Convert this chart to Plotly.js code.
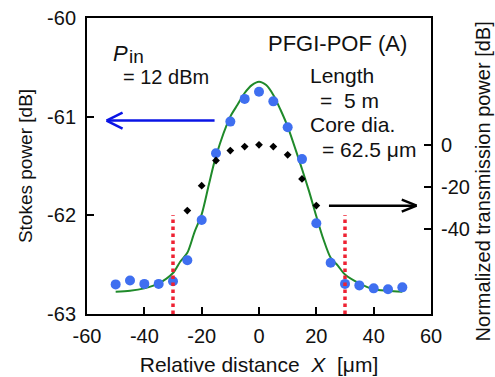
<!DOCTYPE html>
<html>
<head>
<meta charset="utf-8">
<script src="https://cdn.plot.ly/plotly-3.0.1.min.js"></script>
<style>html,body{margin:0;padding:0;background:#fff;}#chart{width:495px;height:377px;}</style>
</head>
<body>
<div id="chart"></div>
<script>
// Measured Stokes power (left axis, dB)
const positions = [-50,-45,-40,-35,-30,-25,-20,-15,-10,-5,0,5,10,15,20,25,30,35,40,45,50];
const stokesPower = [-62.70,-62.66,-62.695,-62.695,-62.668,-62.455,-62.047,-61.37,-61.05,-60.82,-60.747,-60.845,-61.107,-61.43,-62.08,-62.48,-62.695,-62.71,-62.74,-62.75,-62.73];

// Normalized transmission power (right axis, dB)
const transPositions = [-25,-20,-15,-10,-5,0,5,10,15,20];
const transPower = [-31.1,-19.3,-7.4,-2.7,-0.8,0,-0.8,-4.7,-16.1,-28.7];

// Fitted curve
const fitX = [-50,-45,-40,-35,-30,-27.5,-25,-22.5,-20,-17.5,-15,-10,-7.5,-5,-2.5,0,2.5,5,7.5,10,15,17.5,20,22.5,25,27.5,30,35,40,45,50];
const fitY = [-62.775,-62.765,-62.74,-62.69,-62.585,-62.47,-62.38,-62.17,-61.99,-61.69,-61.40,-61.00,-60.88,-60.76,-60.68,-60.645,-60.68,-60.78,-60.93,-61.10,-61.53,-61.76,-62.01,-62.245,-62.43,-62.51,-62.60,-62.69,-62.75,-62.765,-62.775];

// Core boundary markers
const boundaryX = [-30, 30];

// Tick labels
const xTicks = [-60,-40,-20,0,20,40,60];
const yTicks = [-60,-61,-62,-63];
const y2Ticks = [0,-20,-40];

const FONT = 'Liberation Sans, Arial, sans-serif';

const traces = [
  {x: fitX, y: fitY, type: 'scatter', mode: 'lines', line: {color: '#1f8a2a', width: 2, shape: 'spline', smoothing: 0.8}, hoverinfo: 'skip', showlegend: false},
  {x: transPositions, y: transPower, yaxis: 'y2', type: 'scatter', mode: 'markers', marker: {symbol: 'diamond', size: 6, color: '#000'}, showlegend: false},
  {x: positions, y: stokesPower, type: 'scatter', mode: 'markers', marker: {symbol: 'circle', size: 10, color: '#3f6ff0'}, showlegend: false}
];

const shapes = [];
boundaryX.forEach(bx => {
  shapes.push({type: 'line', xref: 'x', yref: 'y', x0: bx, x1: bx, y0: -63, y1: -62, line: {color: '#ee2233', width: 3.5, dash: 'dot'}});
});
// blue arrow (pointing left)
const blue = '#0a14e6';
shapes.push({type: 'line', xref: 'x', yref: 'y', x0: -15.5, x1: -53.0, y0: -61.04, y1: -61.04, line: {color: blue, width: 2.5}});
shapes.push({type: 'line', xref: 'x', yref: 'y', x0: -53.2, x1: -47.6, y0: -61.04, y1: -60.96, line: {color: blue, width: 2.5}});
shapes.push({type: 'line', xref: 'x', yref: 'y', x0: -53.2, x1: -47.6, y0: -61.04, y1: -61.12, line: {color: blue, width: 2.5}});
// black arrow (pointing right)
shapes.push({type: 'line', xref: 'x', yref: 'y', x0: 24.4, x1: 54.8, y0: -61.902, y1: -61.902, line: {color: '#000', width: 2.5}});
shapes.push({type: 'line', xref: 'x', yref: 'y', x0: 55.0, x1: 49.8, y0: -61.902, y1: -61.841, line: {color: '#000', width: 2.5}});
shapes.push({type: 'line', xref: 'x', yref: 'y', x0: 55.0, x1: 49.8, y0: -61.902, y1: -61.963, line: {color: '#000', width: 2.5}});

function txt(text, x, y, size, extra) {
  return Object.assign({text: text, xref: 'x', yref: 'y', x: x, y: y, xanchor: 'left', yanchor: 'middle', showarrow: false, font: {family: FONT, size: size, color: '#111'}}, extra || {});
}

const annotations = [
  txt('<i>P</i>', -51.7, -60.355, 22),
  txt('in', -46.2, -60.395, 19),
  txt('= 12 dBm', -48.2, -60.6, 20),
  txt('PFGI-POF (A)', 2.6, -60.26, 22),
  txt('Length', 17.1, -60.583, 21),
  txt('=  5 m', 20.6, -60.835, 21),
  txt('Core dia.', 17.1, -61.08, 21),
  txt('= 62.5 μm', 21.3, -61.333, 21),
  {text: 'Normalized transmission power [dB]', xref: 'paper', yref: 'paper', x: 1.152, y: 0.449, xanchor: 'center', yanchor: 'middle', textangle: -90, showarrow: false, font: {family: FONT, size: 20, color: '#111'}}
];

const layout = {
  width: 495, height: 377,
  margin: {l: 87, r: 64, t: 18, b: 63, pad: 0},
  paper_bgcolor: '#fff', plot_bgcolor: '#fff',
  font: {family: FONT, size: 20, color: '#111'},
  showlegend: false,
  xaxis: {
    range: [-60, 60], tickvals: xTicks, ticktext: xTicks.map(String),
    ticks: 'inside', ticklen: 7, tickwidth: 2, tickcolor: '#000',
    showline: true, linecolor: '#000', linewidth: 2, mirror: true,
    showgrid: false, zeroline: false,
    tickfont: {family: FONT, size: 20, color: '#111'},
    ticklabelstandoff: 3,
    title: {text: 'Relative distance  <i>X</i>  [μm]', font: {family: FONT, size: 21, color: '#111'}, standoff: 11}
  },
  yaxis: {
    range: [-63, -60], tickvals: yTicks, ticktext: yTicks.map(String),
    ticks: 'inside', ticklen: 7, tickwidth: 2, tickcolor: '#000',
    showline: true, linecolor: '#000', linewidth: 2,
    showgrid: false, zeroline: false,
    tickfont: {family: FONT, size: 20, color: '#111'},
    ticklabelstandoff: 5,
    title: {text: 'Stokes power [dB]', font: {family: FONT, size: 19, color: '#111'}, standoff: 9}
  },
  yaxis2: {
    overlaying: 'y', side: 'right', range: [-80, 60], tickvals: y2Ticks, ticktext: y2Ticks.map(String),
    ticks: 'inside', ticklen: 7, tickwidth: 2, tickcolor: '#000',
    showline: true, linecolor: '#000', linewidth: 2,
    showgrid: false, zeroline: false,
    tickfont: {family: FONT, size: 20, color: '#111'},
    ticklabelstandoff: 4
  },
  shapes: shapes,
  annotations: annotations
};

Plotly.newPlot('chart', traces, layout, {staticPlot: true, displayModeBar: false});
</script>
</body>
</html>
